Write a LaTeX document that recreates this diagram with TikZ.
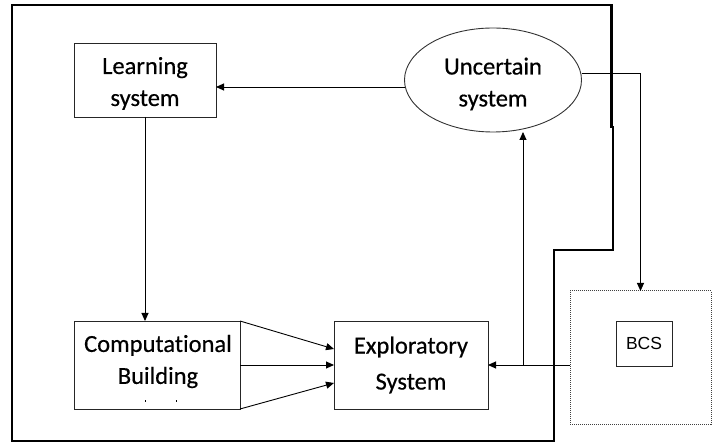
\documentclass[tikz,border=0pt]{standalone}
\usepackage{fontspec}
\setmainfont{Carlito}[FakeBold=0.5,Ligatures=NoCommon]
\newfontfamily\arialfont{Liberation Sans}
\usetikzlibrary{arrows.meta,shapes.geometric,calc}
\begin{document}
\begin{tikzpicture}[x=1pt,y=-1pt,
  every node/.style={inner sep=0pt,outer sep=0pt},
  block/.style={draw=black!85,line width=0.9pt,rectangle},
  label/.style={align=center,font=\fontsize{24.5}{32}\selectfont},
  link/.style={line width=0.9pt,-{Triangle[length=8pt,width=7pt]}},
  frame/.style={line width=2.6pt,line join=miter}]
\useasboundingbox (0,0) rectangle (712,443);

% enclosing boundary
\draw[frame] (12,441) -- (12,5) -- (611.5,5) -- (611.5,127) -- (613,127)
  -- (613,250) -- (554,250) -- (554,441) -- cycle;

% learning system
\node[block,minimum width=142pt,minimum height=74pt] (L) at (145,80) {};
\node[label] (Lt) at (145,83.5) {Learning\\system};

% uncertain system
\node[draw=black!80,line width=0.9pt,ellipse,minimum width=177pt,minimum height=104pt] (U) at (493,80) {};
\node[label] (Ut) at (493,84) {Uncertain\\system};

% computational building block
\node[block,minimum width=166pt,minimum height=88pt] (C) at (157,365) {};
\node[label] (Ct) at (158,361.5) {Computational\\Building};
\fill (144.5,400) rectangle (146,402);
\fill (175.5,400) rectangle (177,402);

% exploratory system
\node[block,minimum width=154pt,minimum height=88pt] (E) at (411,365) {};
\node[label,font=\fontsize{24.5}{36}\selectfont] (Et) at (411,365) {Exploratory\\System};

% dotted container with BCS
\node[draw=black!75,line width=1pt,dash pattern=on 1pt off 1pt,minimum width=141pt,minimum height=133pt] (D) at (640.5,357.5) {};
\node[block,minimum width=56pt,minimum height=45pt,font=\arialfont\fontsize{17.5}{20}\selectfont] (B) at (644,343.5) {BCS};

% connectors
\draw[link] ([yshift=-7pt]U.west) -- ([yshift=-7pt]U.west -| L.east);
\draw[link] (L.south) -- (L.south |- C.north);
\draw[link] (C.north east) -- ([yshift=16pt]E.west);
\draw[link] (C.east) -- (E.west);
\draw[link] (C.south east) -- ([yshift=-18pt]E.west);
\draw[link] (D.west |- E.east) -- (E.east);
\coordinate (J) at (523,365);
\draw[link] (J) -- (J |- U.south);
\draw[link] ([yshift=7pt]U.east) -| (D.north);
\end{tikzpicture}
\end{document}
